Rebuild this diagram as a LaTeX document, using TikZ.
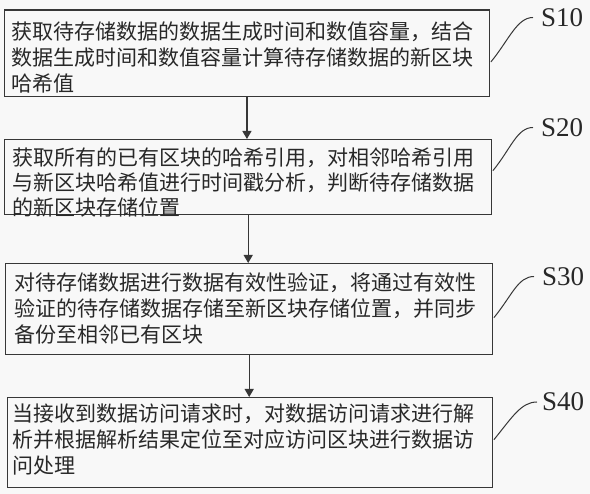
\documentclass[tikz,border=0pt]{standalone}
\usepackage{fontspec}
\setmainfont{Liberation Serif}
\newfontfamily\cjk{Noto Sans CJK SC}
\usetikzlibrary{arrows.meta,calc}
\definecolor{bg}{RGB}{248,248,248}
\definecolor{ink}{RGB}{40,40,40}
\definecolor{linec}{RGB}{55,55,55}
\begin{document}
\begin{tikzpicture}[x=1pt,y=-1pt,
  stepbox/.style={draw=linec, line width=1.4pt, rectangle, inner sep=0pt, anchor=north west},
  txt/.style={anchor=north west, inner sep=0pt, align=left, text=ink,
    font=\cjk\fontsize{21}{26}\selectfont},
  lab/.style={anchor=west, inner sep=0pt, text=ink, font=\fontsize{27}{30}\selectfont},
  arr/.style={draw=linec, line width=1.3pt, -{Triangle[length=8pt,width=9pt]}},
  lead/.style={draw=linec, line width=1pt}]
\fill[bg] (0,0) rectangle (590,494);
\useasboundingbox (0,0) rectangle (590,494);
% boxes
\node[stepbox, minimum width=485.5pt, minimum height=86.5pt] (b1) at (3.5,9.5) {};
\node[stepbox, minimum width=487pt, minimum height=75pt] (b2) at (4,139) {};
\node[stepbox, minimum width=487pt, minimum height=91pt] (b3) at (5,263) {};
\node[stepbox, minimum width=485pt, minimum height=90pt] (b4) at (7,397) {};
% texts
\node[txt] (t1) at (11,19) {\rule{0pt}{20pt}获取待存储数据的数据生成时间和数值容量，结合\\数据生成时间和数值容量计算待存储数据的新区块\\哈希值};
\node[txt, font=\cjk\fontsize{21}{25}\selectfont] (t2) at (12.5,145) {\rule{0pt}{20pt}获取所有的已有区块的哈希引用，对相邻哈希引用\\与新区块哈希值进行时间戳分析，判断待存储数据\\的新区块存储位置};
\node[txt] (t3) at (14,270.5) {\rule{0pt}{20pt}对待存储数据进行数据有效性验证，将通过有效性\\验证的待存储数据存储至新区块存储位置，并同步\\备份至相邻已有区块};
\node[txt] (t4) at (12,401) {\rule{0pt}{20pt}当接收到数据访问请求时，对数据访问请求进行解\\析并根据解析结果定位至对应访问区块进行数据访\\问处理};
% arrows
\draw[arr] (b1.south) -- (b1.south |- b2.north);
\draw[arr] (b2.south) -- (b2.south |- b3.north);
\draw[arr] (b3.south) -- (b3.south |- b4.north);
% labels
\node[lab] (l1) at (541,17.5) {S10};
\node[lab] (l2) at (541,127.5) {S20};
\node[lab] (l3) at (542,276.5) {S30};
\node[lab] (l4) at (542,402) {S40};
% leaders
\path (b1.east) ++(0.5,8.5) coordinate (c1);
\path (b2.east) ++(0.5,-6.5) coordinate (c2);
\path (b3.east) ++(0.5,8.5) coordinate (c3);
\path (b4.east) ++(0.5,-3) coordinate (c4);
\draw[lead] (c1) .. controls +(18,-22) and +(-16,0) .. ([xshift=-8pt]l1.west);
\draw[lead] (c2) .. controls +(18,-22) and +(-16,0) .. ([xshift=-8pt]l2.west);
\draw[lead] (c3) .. controls +(18,-22) and +(-16,0) .. ([xshift=-8pt]l3.west);
\draw[lead] (c4) .. controls +(18,-22) and +(-16,0) .. ([xshift=-5pt]l4.west);
\end{tikzpicture}
\end{document}
